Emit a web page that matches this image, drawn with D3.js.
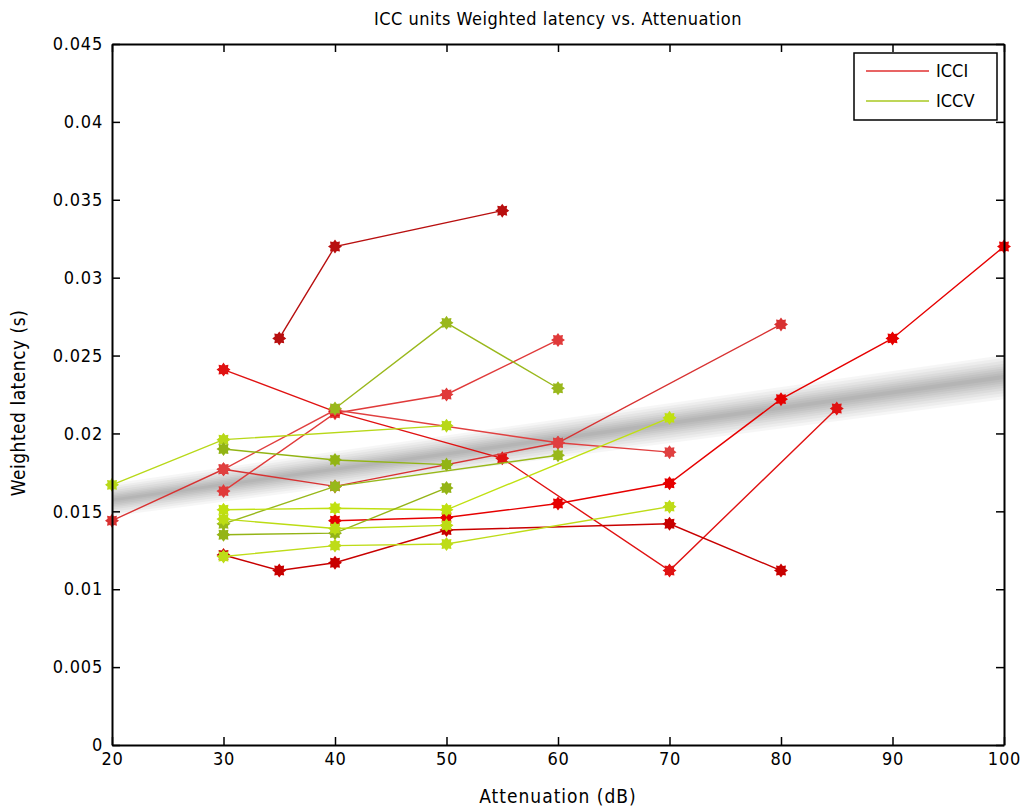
<!DOCTYPE html>
<html>
<head>
<meta charset="utf-8">
<script src="https://cdn.jsdelivr.net/npm/d3@7"></script>
<style>
  body { margin: 0; background: #fff; }
  text { font-family: "Liberation Sans Narrow", "DejaVu Sans Condensed", sans-serif; fill: #000; }
</style>
</head>
<body>
<div id="chart"></div>
<script>
'use strict';

// data
var xTicks = [20, 30, 40, 50, 60, 70, 80, 90, 100];
var yTicks = [0, 0.005, 0.01, 0.015, 0.02, 0.025, 0.03, 0.035, 0.04, 0.045];

var icciLines = [
  [[35, 0.0261], [40, 0.0320], [55, 0.0343]],
  [[30, 0.0163], [40, 0.0213], [50, 0.0225], [60, 0.0260]],
  [[30, 0.0241], [40, 0.0214], [55, 0.0184], [70, 0.0112], [85, 0.0216]],
  [[20, 0.0144], [30, 0.0177], [40, 0.0166], [60, 0.0194], [80, 0.0270]],
  [[30, 0.0177], [40, 0.0215], [60, 0.0194], [70, 0.0188]],
  [[30, 0.0122], [35, 0.0112], [40, 0.0117], [50, 0.0138], [70, 0.0142], [80, 0.0112]],
  [[40, 0.0144], [50, 0.0146], [60, 0.0155], [70, 0.0168], [80, 0.0222], [90, 0.0261], [100, 0.0320]]
];
var icciColors = ["#b80f0f", "#e03a3a", "#e01212", "#d83232", "#e04040", "#c80000", "#e60000"];

var iccvLines = [
  [[40, 0.0216], [50, 0.0271], [60, 0.0229]],
  [[20, 0.0167], [30, 0.0196], [50, 0.0205]],
  [[30, 0.0190], [40, 0.0183], [50, 0.0180]],
  [[30, 0.0142], [40, 0.0166], [60, 0.0186]],
  [[30, 0.0151], [40, 0.0152], [50, 0.0151], [70, 0.0210]],
  [[30, 0.0135], [40, 0.0136], [50, 0.0165]],
  [[30, 0.0145], [40, 0.0139], [50, 0.0141]],
  [[30, 0.0121], [40, 0.0128], [50, 0.0129], [70, 0.0153]]
];
var iccvColors = ["#9ab81c", "#b8d818", "#92b414", "#98b81a", "#c0e010", "#94b416", "#bcdc14", "#bedc18"];

// fitted trend (grey band): start / end values, half widths at both ends
var trend = [[20, 0.01573], [100, 0.02362]];
var bandHalf = [[0.0001, 0.00014], [0.0002, 0.00028], [0.0003, 0.00042], [0.0004, 0.00056],
  [0.0005, 0.0007], [0.00062, 0.00086], [0.00076, 0.00104], [0.0009, 0.00124], [0.00105, 0.00142]];

var W = 1025, H = 808;
var margin = {left: 112, right: 21, top: 44, bottom: 63};

var svg = d3.select("#chart").append("svg")
  .attr("width", W).attr("height", H);

var x = d3.scaleLinear().domain([20, 100]).range([margin.left, W - margin.right]);
var y = d3.scaleLinear().domain([0, 0.045]).range([H - margin.bottom, margin.top]);

// grey band
var band = svg.append("g");
bandHalf.forEach(function(h) {
  var pts = [
    [x(trend[0][0]), y(trend[0][1] + h[0])],
    [x(trend[1][0]), y(trend[1][1] + h[1])],
    [x(trend[1][0]), y(trend[1][1] - h[1])],
    [x(trend[0][0]), y(trend[0][1] - h[0])]
  ];
  band.append("path")
    .attr("d", d3.line()(pts) + "Z")
    .attr("fill", "#000")
    .attr("fill-opacity", 0.037);
});

// star marker
function star(ro, ri, n) {
  var pts = d3.range(n * 2).map(function(i) {
    var a = Math.PI * i / n;
    var r = i % 2 ? ri : ro;
    return [r * Math.sin(a), -r * Math.cos(a)];
  });
  return d3.line()(pts) + "Z";
}
var starPath = star(7, 4.8, 8);

var line = d3.line().x(function(d) { return x(d[0]); }).y(function(d) { return y(d[1]); });

function drawSeries(lines, colors) {
  var g = svg.append("g").selectAll("g").data(lines).enter().append("g");
  g.append("path")
    .attr("d", function(d) { return line(d); })
    .attr("fill", "none")
    .attr("stroke", function(d, i) { return colors[i]; })
    .attr("stroke-width", 1.4);
  g.each(function(d, i) {
    d3.select(this).selectAll("path.m").data(d).enter().append("path")
      .attr("class", "m")
      .attr("d", starPath)
      .attr("transform", function(p) { return "translate(" + x(p[0]) + "," + y(p[1]) + ")"; })
      .attr("fill", colors[i]);
  });
}
drawSeries(icciLines, icciColors);
drawSeries(iccvLines, iccvColors);

// axes + frame
var fmtY = function(d) { return d === 0 ? "0" : d3.format(".3~f")(d); };
var axBottom = svg.append("g").attr("transform", "translate(0," + y(0) + ")")
  .call(d3.axisBottom(x).tickValues(xTicks).tickSizeInner(-8).tickSizeOuter(0).tickPadding(7));
var axTop = svg.append("g").attr("transform", "translate(0," + y(0.045) + ")")
  .call(d3.axisTop(x).tickValues(xTicks).tickSizeInner(-8).tickSizeOuter(0).tickFormat(""));
var axLeft = svg.append("g").attr("transform", "translate(" + x(20) + ",0)")
  .call(d3.axisLeft(y).tickValues(yTicks).tickSizeInner(-8).tickSizeOuter(0).tickPadding(9).tickFormat(fmtY));
var axRight = svg.append("g").attr("transform", "translate(" + x(100) + ",0)")
  .call(d3.axisRight(y).tickValues(yTicks).tickSizeInner(-8).tickSizeOuter(0).tickFormat(""));

[axBottom, axTop, axLeft, axRight].forEach(function(a) {
  a.select(".domain").attr("stroke", "#000").attr("stroke-width", 2);
  a.selectAll(".tick line").attr("stroke", "#000").attr("stroke-width", 1.5);
  a.selectAll(".tick text").attr("font-size", 18).attr("font-family", null).style("letter-spacing", "0.8px");
});

// titles
svg.append("text").attr("x", 558).attr("y", 25).attr("text-anchor", "middle")
  .attr("font-size", 18).style("letter-spacing", "0.5px").text("ICC units Weighted latency vs. Attenuation");
svg.append("text").attr("x", 558).attr("y", 803).attr("text-anchor", "middle")
  .attr("font-size", 19).style("letter-spacing", "1px").text("Attenuation (dB)");
svg.append("text").attr("transform", "translate(25,403) rotate(-90)").attr("text-anchor", "middle")
  .attr("font-size", 19).style("letter-spacing", "0.5px").text("Weighted latency (s)");

// legend
var leg = svg.append("g").attr("transform", "translate(854,53)");
leg.append("rect").attr("width", 143).attr("height", 67)
  .attr("fill", "#fff").attr("stroke", "#000").attr("stroke-width", 1.5);
var legItems = [["ICCI", "#e03030"], ["ICCV", "#a8c820"]];
legItems.forEach(function(it, i) {
  leg.append("line").attr("x1", 12).attr("x2", 75).attr("y1", 18 + i * 30).attr("y2", 18 + i * 30)
    .attr("stroke", it[1]).attr("stroke-width", 1.5);
  leg.append("text").attr("x", 82).attr("y", 24 + i * 30).attr("font-size", 18).text(it[0]);
});
</script>
</body>
</html>
